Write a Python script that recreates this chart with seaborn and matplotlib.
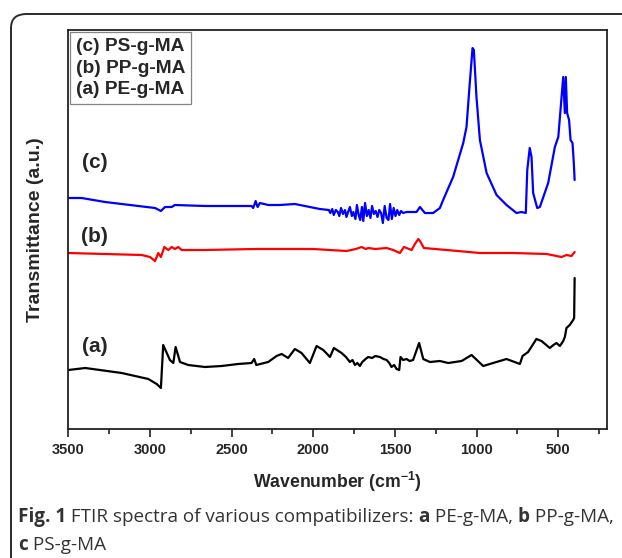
import numpy as np
import pandas as pd
import matplotlib
matplotlib.use("Agg")
import matplotlib.pyplot as plt
import seaborn as sns
from matplotlib.patches import FancyBboxPatch

# ---------------- data (arbitrary units) ----------------
wn_a = [3500, 3396, 3173, 3010, 2959, 2933, 2919, 2878, 2857, 2843, 2816, 2766, 2663, 2561,
        2460, 2378, 2362, 2349, 2276, 2225, 2194, 2154, 2113, 2072, 2021, 1980, 1939, 1898,
        1874, 1827, 1800, 1776, 1760, 1745, 1730, 1715, 1700, 1680, 1664, 1640, 1620, 1592,
        1570, 1551, 1535, 1521, 1505, 1490, 1474, 1466, 1450, 1429, 1410, 1389, 1352, 1327,
        1286, 1225, 1174, 1092, 1031, 960, 899, 817, 735, 719, 685, 634, 603, 552, 530, 511,
        490, 470, 460, 450, 430, 409, 403, 400]
val_a = [59, 61, 56, 50, 45, 41, 84, 69, 66, 82, 67, 64, 62, 63,
         65, 66, 70, 64, 67, 73, 75, 71, 80, 76, 66, 83, 79, 72,
         81, 76, 72, 67, 69, 64, 66, 63, 67, 70, 72, 71, 73, 72,
         70, 69, 66, 62, 64, 60, 59, 72, 69, 70, 68, 69, 86, 70,
         67, 68, 66, 68, 74, 63, 66, 70, 65, 73, 77, 90, 88, 81, 84, 86,
         83, 88, 92, 101, 104, 109, 111, 151]

wn_b = [3500, 3275, 3051, 3000, 2969, 2949, 2933, 2912, 2888, 2867, 2847, 2827, 2806, 2663,
        2357, 2206, 2001, 1796, 1740, 1704, 1680, 1664, 1620, 1551, 1511, 1470, 1445, 1398,
        1378, 1357, 1347, 1323, 1184, 980, 776, 572, 480, 450, 419, 400]
val_b = [176, 175, 174, 172, 168, 176, 172, 182, 179, 182, 180, 182, 179, 179,
         180, 180, 180, 178, 180, 182, 180, 181, 180, 181, 179, 176, 182, 179,
         185, 190, 188, 181, 179, 176, 176, 175, 172, 174, 173, 177]

wn_c = [3500, 3418, 3275, 3071, 2969, 2933, 2908, 2867, 2847, 2663, 2460, 2378, 2368, 2353,
        2341, 2327, 2276, 2206, 2113, 2051, 2021, 1960,
        1905, 1896, 1884, 1875, 1862, 1850, 1841, 1830, 1818, 1806, 1797, 1785, 1776, 1764,
        1755, 1742, 1733, 1722, 1713, 1702, 1694, 1683, 1672, 1661, 1650, 1640, 1629, 1618,
        1607, 1596, 1585, 1574, 1563, 1551, 1540, 1530, 1519, 1508, 1497, 1486, 1474, 1463,
        1450, 1429, 1368, 1347, 1317, 1286, 1266, 1225, 1205, 1144, 1082, 1062, 1042, 1025,
        1017, 1001, 980, 939, 878, 817, 756, 725, 699, 690, 675, 664, 654, 629, 613, 562,
        521, 500, 480, 470, 460, 454, 446, 434, 425, 413, 405, 400]
val_c = [231, 231, 227, 223, 221, 218, 222, 222, 224, 223, 223, 223, 221, 228,
         222, 226, 224, 224, 225, 223, 222, 220,
         219, 216, 220, 214, 219, 217, 213, 221, 215, 219, 212, 218, 222, 213,
         217, 210, 224, 214, 209, 222, 208, 226, 213, 219, 211, 223, 215, 218,
         212, 219, 216, 206, 223, 211, 209, 225, 210, 221, 213, 219, 214, 218,
         216, 217, 217, 222, 216, 216, 216, 221, 229, 252, 286, 302, 346, 381,
         379, 332, 289, 256, 234, 224, 216, 217, 216, 259, 281, 272, 236, 221, 222, 246,
         282, 292, 332, 352, 316, 352, 316, 309, 289, 286, 266, 249]

series_labels = ["(c) PS-g-MA", "(b) PP-g-MA", "(a) PE-g-MA"]
curve_tags = ["(c)", "(b)", "(a)"]
x_ticks = [3500, 3000, 2500, 2000, 1500, 1000, 500]
caption_line1 = [("Fig. 1", True), (" FTIR spectra of various compatibilizers: ", False),
                 ("a", True), (" PE-g-MA, ", False), ("b", True), (" PP-g-MA,", False)]
caption_line2 = [("c", True), (" PS-g-MA", False)]

df = pd.concat([
    pd.DataFrame({"wn": wn_c, "val": val_c, "s": series_labels[0]}),
    pd.DataFrame({"wn": wn_b, "val": val_b, "s": series_labels[1]}),
    pd.DataFrame({"wn": wn_a, "val": val_a, "s": series_labels[2]}),
])

# ---------------- figure ----------------
sns.set_theme(style="white")
plt.rcParams["font.family"] = ["Liberation Sans", "DejaVu Sans"]
plt.rcParams["mathtext.fontset"] = "custom"
plt.rcParams["mathtext.bf"] = "Liberation Sans:bold"
plt.rcParams["mathtext.rm"] = "Liberation Sans:bold"

W, H = 622, 558
fig = plt.figure(figsize=(W / 100, H / 100), dpi=100)
fig.patch.set_facecolor("white")

# outer rounded frame
frame = FancyBboxPatch((11 / W, -0.2), 1.2, (H - 14) / H + 0.2,
                       boxstyle="round,pad=0,rounding_size=0.025",
                       transform=fig.transFigure, fill=False,
                       edgecolor="#2b2b2b", linewidth=1.4, clip_on=False)
fig.add_artist(frame)

ax_l, ax_r, ax_t, ax_b = 68.3, 607.3, 30.0, 429.0
ax = fig.add_axes([ax_l / W, (H - ax_b) / H, (ax_r - ax_l) / W, (ax_b - ax_t) / H])

palette = {series_labels[0]: "#0000ff", series_labels[1]: "#ff0000", series_labels[2]: "#000000"}
sns.lineplot(data=df, x="wn", y="val", hue="s", palette=palette, sort=False,
             estimator=None, linewidth=1.6, ax=ax, legend=True)

ax.set_xlim(3500, 200)
ax.set_ylim(0, 399)
ax.set_xticks(x_ticks)
ax.set_xticks(np.arange(3250, 199, -500), minor=True)
ax.set_xticklabels([str(t) for t in x_ticks], fontweight="bold", fontsize=10.5,
                   family=["Liberation Sans", "DejaVu Sans"])
ax.set_yticks([])
ax.tick_params(axis="x", which="major", direction="out", length=6, width=1.2,
               color="#222222", pad=4, bottom=True)
ax.tick_params(axis="x", which="minor", direction="out", length=3.5, width=1.2,
               color="#222222", bottom=True)
for sp in ax.spines.values():
    sp.set_color("#222222")
    sp.set_linewidth(1.3)

ax.set_xlabel(r"Wavenumber (cm$^{\mathbf{-1}}$)", fontsize=12.7, fontweight="bold",
              family=["Liberation Sans", "DejaVu Sans"])
ax.xaxis.set_label_coords(0.5, -(470 - ax_b) / (ax_b - ax_t), transform=ax.transAxes)
ax.set_ylabel("Transmittance (a.u.)", fontsize=14, fontweight="bold",
              family=["Liberation Sans", "DejaVu Sans"])
ax.yaxis.set_label_coords(-(68.3 - 44) / (ax_r - ax_l), 0.5)

# curve tags
tag_y = [429 - 162, 429 - 236, 429 - 347]
for tag, ty in zip(curve_tags, tag_y):
    ax.text(3340, ty, tag, fontsize=15, fontweight="bold", ha="center", va="center",
            family=["Liberation Sans", "DejaVu Sans"])

leg = ax.legend(loc="upper left", frameon=True, fancybox=False, handlelength=0,
                handletextpad=0, borderpad=0.3, labelspacing=0.22,
                borderaxespad=0.1,
                prop={"weight": "bold", "size": 13.8, "family": ["Liberation Sans", "DejaVu Sans"]})
for h in leg.legend_handles:
    h.set_visible(False)
leg.get_frame().set_edgecolor("#666666")
leg.get_frame().set_linewidth(0.9)

# caption with mixed bold/normal runs
cap_font = ["Open Sans", "DejaVu Sans"]
renderer = fig.canvas.get_renderer()
def draw_runs(runs, x_px, y_px):
    x = x_px
    for txt, bold in runs:
        t = fig.text(x / W, 1 - y_px / H, txt, fontsize=13.6, family=cap_font,
                     fontweight="bold" if bold else "normal", color="#333333",
                     va="center", ha="left")
        bb = t.get_window_extent(renderer=renderer)
        x += bb.width
draw_runs(caption_line1, 18, 517)
draw_runs(caption_line2, 18, 545)

fig.savefig("out.png", dpi=100, facecolor="white")
